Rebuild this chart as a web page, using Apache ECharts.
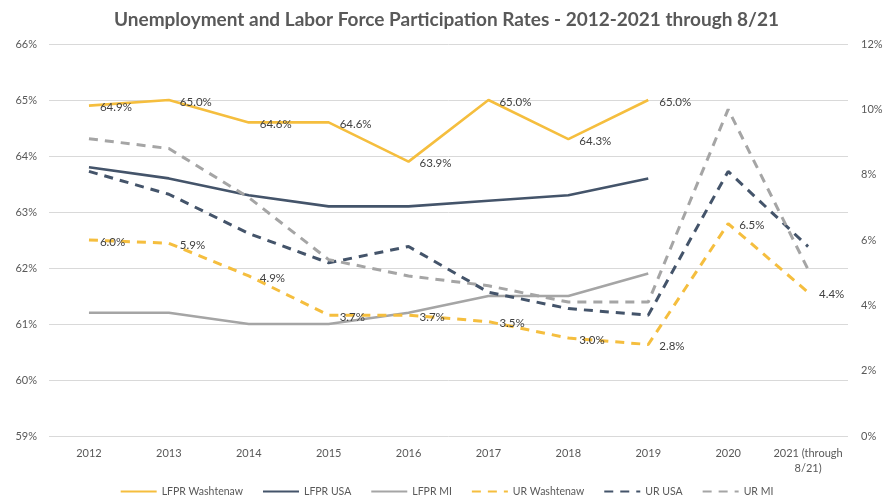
<!DOCTYPE html>
<html>
<head>
<meta charset="utf-8">
<script src="https://cdn.jsdelivr.net/npm/echarts@6/dist/echarts.min.js"></script>
<style>
  html, body { margin: 0; padding: 0; background: #fff; }
  #chart { width: 893px; height: 504px; }
</style>
</head>
<body>
<div id="chart"></div>
<script>
// Years on the category axis
const years = ['2012', '2013', '2014', '2015', '2016', '2017', '2018', '2019', '2020', '2021 (through\n8/21)'];

// Labor force participation rates (left axis, %)
const lfprWashtenaw = [64.9, 65.0, 64.6, 64.6, 63.9, 65.0, 64.3, 65.0, null, null];
const lfprUSA       = [63.8, 63.6, 63.3, 63.1, 63.1, 63.2, 63.3, 63.6, null, null];
const lfprMI        = [61.2, 61.2, 61.0, 61.0, 61.2, 61.5, 61.5, 61.9, null, null];

// Unemployment rates (right axis, %)
const urWashtenaw = [6.0, 5.9, 4.9, 3.7, 3.7, 3.5, 3.0, 2.8, 6.5, 4.4];
const urUSA       = [8.1, 7.4, 6.2, 5.3, 5.8, 4.4, 3.9, 3.7, 8.1, 5.8];
const urMI        = [9.1, 8.8, 7.3, 5.4, 4.9, 4.6, 4.1, 4.1, 10.0, 5.1];

const YELLOW = '#F5BE3E';
const NAVY = '#44546A';
const GRAY = '#A5A5A5';
const FONT = 'Lato, "Open Sans", sans-serif';

const valueLabel = {
  show: true,
  position: 'right',
  distance: 11,
  offset: [0, 2],
  color: '#404040',
  fontSize: 11.5,
  fontFamily: FONT,
  formatter: p => (p.value == null ? '' : p.value.toFixed(1) + '%')
};

function lineSeries(name, data, color, dashed, yAxisIndex, withLabels) {
  return {
    name: name,
    type: 'line',
    data: data,
    yAxisIndex: yAxisIndex,
    symbol: 'circle',
    symbolSize: 0,
    showSymbol: true,
    connectNulls: false,
    lineStyle: {
      color: color,
      width: dashed ? 3 : 2.6,
      type: dashed ? [9, 7] : 'solid',
      cap: 'butt'
    },
    itemStyle: { color: color },
    label: withLabels ? valueLabel : { show: false },
    emphasis: { disabled: true },
    z: withLabels ? 3 : 2
  };
}

const chart = echarts.init(document.getElementById('chart'), null, { renderer: 'canvas' });

chart.setOption({
  animation: false,
  backgroundColor: '#ffffff',
  title: {
    text: 'Unemployment and Labor Force Participation Rates - 2012-2021 through 8/21',
    left: 'center',
    top: 5,
    textStyle: {
      fontFamily: FONT,
      fontSize: 19,
      fontWeight: 'bold',
      color: '#595959'
    }
  },
  grid: { left: 49, right: 45, top: 44, bottom: 68, containLabel: false },
  legend: {
    bottom: 2,
    left: 'center',
    itemWidth: 36,
    itemHeight: 12,
    itemGap: 19,
    itemStyle: { opacity: 0 },
    textStyle: { fontFamily: FONT, fontSize: 10.5, color: '#595959' },
    data: ['LFPR Washtenaw', 'LFPR USA', 'LFPR MI', 'UR Washtenaw', 'UR USA', 'UR MI']
  },
  xAxis: {
    type: 'category',
    data: years,
    boundaryGap: true,
    axisLine: { show: false },
    axisTick: { show: false },
    axisLabel: {
      fontFamily: FONT,
      fontSize: 11,
      color: '#595959',
      margin: 10,
      lineHeight: 15,
      interval: 0
    }
  },
  yAxis: [
    {
      type: 'value',
      min: 59,
      max: 66,
      interval: 1,
      axisLine: { show: false },
      axisTick: { show: false },
      axisLabel: {
        fontFamily: FONT,
        fontSize: 11,
        color: '#595959',
        margin: 12,
        formatter: '{value}%'
      },
      splitLine: { show: true, lineStyle: { color: '#D9D9D9', width: 1 } }
    },
    {
      type: 'value',
      min: 0,
      max: 12,
      interval: 2,
      position: 'right',
      axisLine: { show: false },
      axisTick: { show: false },
      axisLabel: {
        fontFamily: FONT,
        fontSize: 11,
        color: '#595959',
        margin: 13,
        formatter: '{value}%'
      },
      splitLine: { show: false }
    }
  ],
  series: [
    lineSeries('LFPR Washtenaw', lfprWashtenaw, YELLOW, false, 0, true),
    lineSeries('LFPR USA', lfprUSA, NAVY, false, 0, false),
    lineSeries('LFPR MI', lfprMI, GRAY, false, 0, false),
    lineSeries('UR Washtenaw', urWashtenaw, YELLOW, true, 1, true),
    lineSeries('UR USA', urUSA, NAVY, true, 1, false),
    lineSeries('UR MI', urMI, GRAY, true, 1, false)
  ]
});
</script>
</body>
</html>
